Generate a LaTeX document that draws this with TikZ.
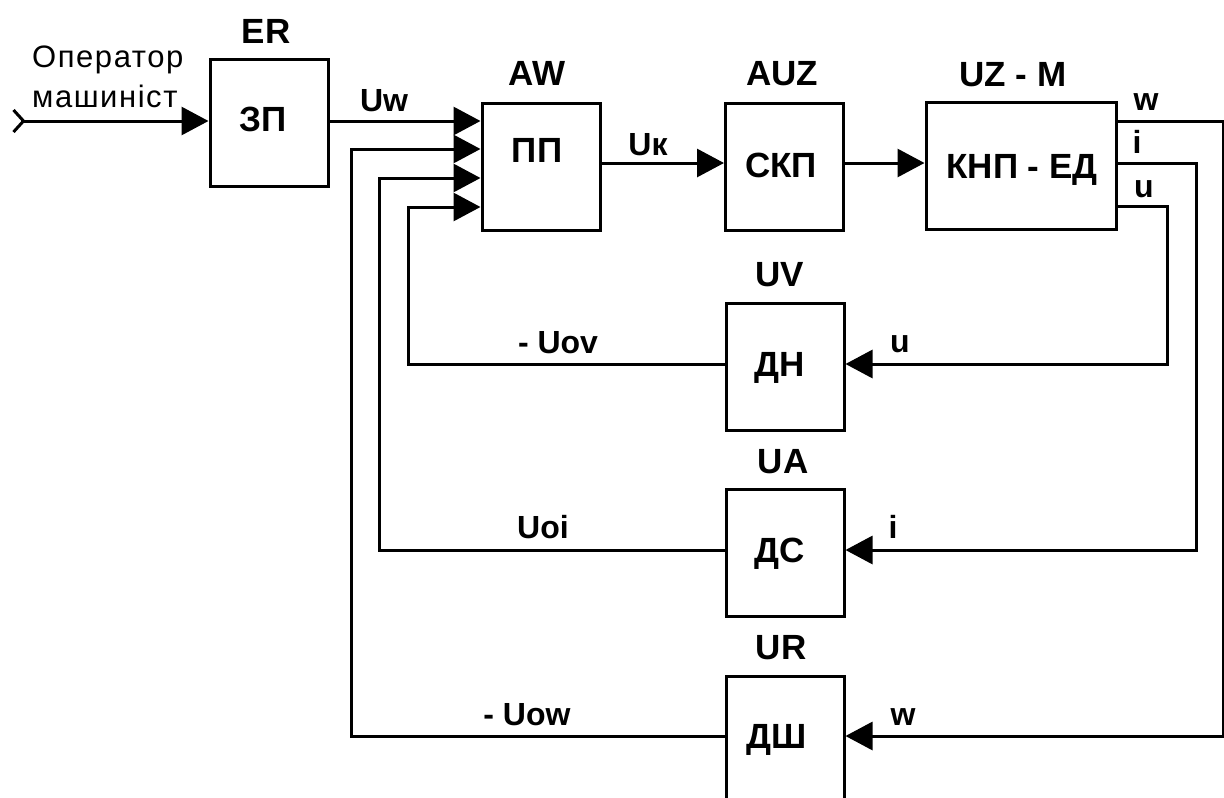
\documentclass[tikz,border=0pt]{standalone}
\usepackage{fontspec}
\setmainfont{Liberation Sans}
\newfontfamily\opfont[LetterSpace=5]{Liberation Sans}
\usetikzlibrary{arrows.meta}
\begin{document}
\begin{tikzpicture}[x=1pt,y=-1pt,
  blk/.style={draw, line width=3pt, inner sep=0pt, minimum width=118pt, minimum height=127pt},
  big/.style={font=\fontsize{35}{40}\selectfont\bfseries, inner sep=0pt, anchor=base},
  sml/.style={font=\fontsize{32}{36}\selectfont\bfseries, inner sep=0pt, anchor=base},
  optxt/.style={font=\fontsize{31}{36}\selectfont\opfont, inner sep=0pt, anchor=base west},
  wire/.style={line width=3pt},
  arr/.style={wire, -{Triangle[length=27pt,width=28pt]}},
]
\useasboundingbox (0,0) rectangle (1224,798);

% blocks
\node[blk] (ER) at (269,123) {};
\node[blk] (PP) at (541,166.5) {};
\node[blk] (SKP) at (784.5,166.5) {};
\node[blk, minimum width=190pt] (KNP) at (1021,166) {};
\node[blk] (DN) at (785,366.5) {};
\node[blk] (DS) at (785,553) {};
\node[blk] (DSH) at (785,739.5) {};

% block texts
\node[big] (tER) at (266,43) {ER};
\node[big] (tZP) at (263,131) {ЗП};
\node[big] (tAW) at (537,85) {AW};
\node[big] (tPP) at (537,162) {ПП};
\node[big] (tAUZ) at (782,85) {AUZ};
\node[big] (tSKP) at (781,177) {СКП};
\node[big] (tUZM) at (1013,86) {UZ - M};
\node[big] (tKNP) at (1022,178) {КНП - ЕД};
\node[big] (tUV) at (780,286) {UV};
\node[big] (tDN) at (780,376) {ДН};
\node[big] (tUA) at (783,473) {UA};
\node[big] (tDS) at (780,562) {ДС};
\node[big] (tUR) at (781,659) {UR};
\node[big] (tDSH) at (777,748) {ДШ};

% operator text
\node[optxt] (op1) at (32,67) {Оператор};
\node[optxt] (op2) at (32,107) {машиніст};

% signal labels
\node[sml] (lUw) at (384,111) {Uw};
\node[sml] (lUk) at (648,155) {Uк};
\node[sml] (lw) at (1146,110) {w};
\node[sml] (li) at (1137,153) {i};
\node[sml] (lu) at (1144,197) {u};
\node[sml] (lUov) at (558,353) {- Uov};
\node[sml] (lUoi) at (543,538) {Uoi};
\node[sml] (lUow) at (527,725) {- Uow};
\node[sml] (lu2) at (900,352) {u};
\node[sml] (li2) at (893,538) {i};
\node[sml] (lw2) at (903,725) {w};

% coordinates
\coordinate (inp) at (12,121);
\coordinate (yk) at (0,163);
\coordinate (wR) at (1223,121);
\coordinate (iR) at (1196,163);
\coordinate (uR) at (1167,206);
\coordinate (yW) at (0,736);
\coordinate (yI) at (0,550);
\coordinate (yU) at (0,364);
\coordinate (fbW) at (351,149);
\coordinate (fbI) at (379,178);
\coordinate (fbU) at (408,207);

% forward path
\draw[wire, {Straight Barb[reversed,length=10pt,width=22pt]}-{Triangle[length=27pt,width=28pt]}] (inp) -- (inp -| ER.west);
\draw[arr] (ER.east |- inp) -- (PP.west |- inp);
\draw[arr] (PP.east |- yk) -- (SKP.west |- yk);
\draw[arr] (SKP.east |- yk) -- (KNP.west |- yk);

% outputs to sensors
\draw[arr] (KNP.east |- wR) -- (wR) |- (DSH.east |- yW);
\draw[arr] (KNP.east |- iR) -- (iR) |- (DS.east |- yI);
\draw[arr] (KNP.east |- uR) -- (uR) |- (DN.east |- yU);

% feedback
\draw[arr] (DN.west |- yU) -| (fbU) -- (PP.west |- fbU);
\draw[arr] (DS.west |- yI) -| (fbI) -- (PP.west |- fbI);
\draw[arr] (DSH.west |- yW) -| (fbW) -- (PP.west |- fbW);
\end{tikzpicture}
\end{document}
